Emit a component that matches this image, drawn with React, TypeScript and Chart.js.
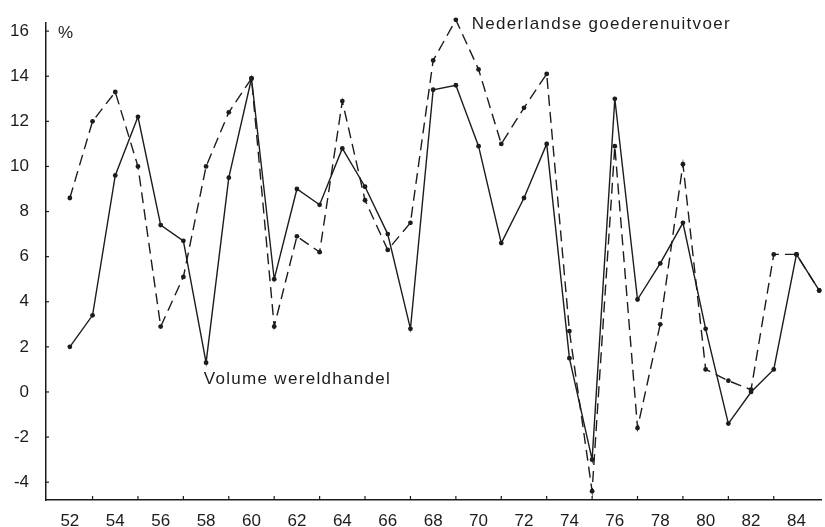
import React, { useEffect, useRef } from 'react';
import { Chart, registerables } from 'chart.js';

Chart.register(...registerables);

// Years (19xx)
const years = [52, 53, 54, 55, 56, 57, 58, 59, 60, 61, 62, 63, 64, 65, 66, 67, 68, 69, 70, 71, 72, 73, 74, 75, 76, 77, 78, 79, 80, 81, 82, 83, 84, 85];

// Volume wereldhandel (solid)
const wereldhandel = [2.0, 3.4, 9.6, 12.2, 7.4, 6.7, 1.3, 9.5, 13.9, 5.0, 9.0, 8.3, 10.8, 9.1, 7.0, 2.8, 13.4, 13.6, 10.9, 6.6, 8.6, 11.0, 1.5, -3.0, 13.0, 4.1, 5.7, 7.5, 2.8, -1.4, 0.0, 1.0, 6.1, 4.5];

// Nederlandse goederenuitvoer (dashed)
const goederenuitvoer = [8.6, 12.0, 13.3, 10.0, 2.9, 5.1, 10.0, 12.4, 13.9, 2.9, 6.9, 6.2, 12.9, 8.5, 6.3, 7.5, 14.7, 16.5, 14.3, 11.0, 12.6, 14.1, 2.7, -4.4, 10.9, -1.6, 3.0, 10.1, 1.0, 0.5, 0.1, 6.1, 6.1, 4.5];

const yTickValues = [-4, -2, 0, 2, 4, 6, 8, 10, 12, 14, 16];
const xTickValues = [52, 54, 56, 58, 60, 62, 64, 66, 68, 70, 72, 74, 76, 78, 80, 82, 84];
const xMinorTicks = [53, 55, 57, 59, 61, 63, 65, 67, 69, 71, 73, 75, 77, 79, 81, 83];

const INK = '#1c1c1c';
const FONT = '"Liberation Sans", Arial, Helvetica, sans-serif';

const annotPlugin = {
  id: 'annot',
  afterDatasetsDraw(chart: any) {
    const { ctx, scales } = chart;
    const x = scales.x;
    const y = scales.y;
    ctx.save();
    ctx.strokeStyle = INK;
    ctx.lineWidth = 1.2;
    xMinorTicks.forEach((v) => {
      const px = x.getPixelForValue(v);
      ctx.beginPath();
      ctx.moveTo(px, y.bottom);
      ctx.lineTo(px, y.bottom - 4);
      ctx.stroke();
    });
    yTickValues.forEach((v) => {
      const py = y.getPixelForValue(v);
      ctx.beginPath();
      ctx.moveTo(x.left, py);
      ctx.lineTo(x.left + 3, py);
      ctx.stroke();
    });
    ctx.fillStyle = INK;
    ctx.font = `17px ${FONT}`;
    ctx.textAlign = 'left';
    ctx.textBaseline = 'alphabetic';
    (ctx as any).letterSpacing = '1.3px';
    ctx.fillText('Nederlandse goederenuitvoer', x.getPixelForValue(69.7), y.getPixelForValue(16.1));
    ctx.fillText('Volume wereldhandel', x.getPixelForValue(57.9), y.getPixelForValue(0.35));
    (ctx as any).letterSpacing = '0px';
    ctx.fillText('%', x.left + 12, y.getPixelForValue(15.7));
    ctx.restore();
  },
};

export default function App() {
  const canvasRef = useRef<HTMLCanvasElement | null>(null);

  useEffect(() => {
    if (!canvasRef.current) return;
    const chart = new Chart(canvasRef.current, {
      type: 'line',
      data: {
        datasets: [
          {
            label: 'Volume wereldhandel',
            data: years.map((yr, i) => ({ x: yr, y: wereldhandel[i] })),
            borderColor: INK,
            borderWidth: 1.4,
            pointRadius: 2.4,
            pointBackgroundColor: INK,
            pointBorderWidth: 0,
            tension: 0,
            clip: false as any,
          },
          {
            label: 'Nederlandse goederenuitvoer',
            data: years.map((yr, i) => ({ x: yr, y: goederenuitvoer[i] })),
            borderColor: INK,
            borderWidth: 1.4,
            borderDash: [11, 6],
            pointRadius: 2.4,
            pointBackgroundColor: INK,
            pointBorderWidth: 0,
            tension: 0,
            clip: false as any,
          },
        ],
      },
      options: {
        animation: false,
        responsive: false,
        maintainAspectRatio: false,
        devicePixelRatio: 1,
        layout: { padding: { top: 23, left: 0, right: 0, bottom: 0 } },
        plugins: {
          legend: { display: false },
          tooltip: { enabled: false },
        },
        scales: {
          x: {
            type: 'linear',
            min: 50.95,
            max: 85.08,
            grid: { display: false },
            border: { display: true, color: INK, width: 1.5 },
            ticks: {
              color: INK,
              font: { family: FONT, size: 17 },
              padding: 3,
              maxRotation: 0,
              autoSkip: false,
              callback: (v: any) => String(v),
            },
            afterBuildTicks: (s: any) => {
              s.ticks = xTickValues.map((v) => ({ value: v }));
            },
            afterFit: (s: any) => {
              s.height = 27;
            },
          },
          y: {
            type: 'linear',
            min: -4.79,
            max: 16.36,
            grid: { display: false },
            border: { display: true, color: INK, width: 1.5 },
            ticks: {
              color: INK,
              font: { family: FONT, size: 17 },
              padding: 9,
              autoSkip: false,
              callback: (v: any) => String(v),
            },
            afterBuildTicks: (s: any) => {
              s.ticks = yTickValues.map((v) => ({ value: v }));
            },
            afterFit: (s: any) => {
              s.width = 46;
            },
          },
        },
      },
      plugins: [annotPlugin],
    });
    return () => chart.destroy();
  }, []);

  return (
    <div style={{ position: 'absolute', left: 0, top: 0, width: 825, height: 527, background: '#fff' }}>
      <canvas ref={canvasRef} width={825} height={527} style={{ display: 'block', width: 825, height: 527 }} />
    </div>
  );
}
